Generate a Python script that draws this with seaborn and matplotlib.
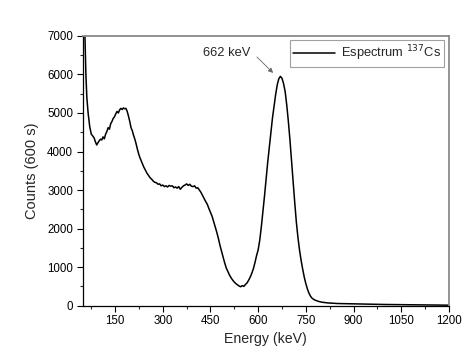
import matplotlib
matplotlib.use("Agg")
import matplotlib.pyplot as plt
import seaborn as sns
import pandas as pd

energy = [48, 52, 55, 58, 61, 65, 70, 75, 80, 84, 88, 92, 96, 100, 104, 108, 112, 116, 120, 124,
          128, 132, 136, 140, 144, 148, 152, 156, 160, 164, 168, 172, 176, 180, 184, 188, 192, 196,
          200, 204, 208, 212, 216, 220, 224, 228, 232, 236, 240, 245, 250, 255, 260, 265, 270, 275,
          280, 285, 290, 295, 300, 305, 310, 315, 320, 325, 330, 335, 340, 345, 350, 355, 360, 365,
          370, 375, 380, 385, 390, 395, 400, 405, 410, 415, 420, 425, 430, 435, 440, 445, 450, 455,
          460, 465, 470, 475, 480, 485, 490, 495, 500, 505, 510, 515, 520, 525, 530, 535, 540, 545,
          550, 555, 560, 565, 570, 575, 580, 585, 590, 595, 600, 605, 610, 615, 620, 625, 630, 635,
          640, 645, 650, 655, 660, 665, 670, 675, 680, 685, 690, 695, 700, 705, 710, 715, 720, 725,
          730, 735, 740, 745, 750, 755, 760, 765, 770, 775, 780, 790, 800, 820, 850, 880, 900, 950,
          1000, 1050, 1100, 1150, 1200]
counts = [9500, 8200, 7000, 6000, 5400, 5000, 4650, 4450, 4400, 4350, 4250, 4170, 4230, 4280, 4320,
          4300, 4380, 4330, 4450, 4520, 4620, 4580, 4720, 4780, 4860, 4900, 4980, 5040, 5000, 5080,
          5120, 5090, 5130, 5110, 5120, 5040, 4920, 4780, 4620, 4540, 4420, 4320, 4200, 4060, 3940,
          3840, 3760, 3680, 3600, 3520, 3440, 3380, 3320, 3280, 3230, 3200, 3190, 3150, 3160, 3110,
          3130, 3090, 3110, 3080, 3120, 3100, 3110, 3060, 3080, 3050, 3090, 3020, 3070, 3110, 3130,
          3160, 3120, 3150, 3100, 3090, 3110, 3050, 3060, 3000, 2940, 2860, 2780, 2700, 2630, 2520,
          2420, 2320, 2180, 2040, 1900, 1740, 1560, 1400, 1250, 1100, 970, 880, 790, 720, 660, 610,
          570, 540, 510, 490, 520, 500, 550, 590, 660, 740, 840, 960, 1120, 1300, 1450, 1700, 2050,
          2450, 2850, 3300, 3720, 4100, 4480, 4870, 5180, 5480, 5730, 5890, 5950, 5900, 5760, 5550,
          5200, 4780, 4300, 3750, 3180, 2680, 2180, 1780, 1450, 1180, 950, 740, 570, 430, 320, 240,
          190, 160, 140, 110, 90, 70, 55, 50, 45, 38, 30, 25, 20, 15, 12]

x_ticks = [150, 300, 450, 600, 750, 900, 1050, 1200]
y_ticks = [0, 1000, 2000, 3000, 4000, 5000, 6000, 7000]

df = pd.DataFrame({"Energy": energy, "Counts": counts})

sns.set_style("ticks")
plt.rcParams['font.family'] = ['Liberation Sans', 'DejaVu Sans']

fig = plt.figure(figsize=(4.74, 3.63), dpi=100)
ax = fig.add_axes([0.1745, 0.158, 0.7725, 0.743])

sns.lineplot(data=df, x="Energy", y="Counts", ax=ax, color="black", linewidth=1.1,
             label=r"Espectrum $^{137}$Cs")

ax.set_xlim(48, 1200)
ax.set_ylim(0, 7000)
ax.set_xticks(x_ticks)
ax.set_xticklabels([str(v) for v in x_ticks])
ax.set_yticks(y_ticks)
ax.set_yticklabels([str(v) for v in y_ticks])
ax.set_xticks([75, 225, 375, 525, 675, 825, 975, 1125], minor=True)
ax.set_yticks([500, 1500, 2500, 3500, 4500, 5500, 6500], minor=True)
ax.tick_params(axis="both", which="major", direction="out", length=4, width=0.8,
               labelsize=8.3, colors="black", pad=3)
ax.tick_params(axis="both", which="minor", direction="out", length=2, width=0.8)
ax.set_xlabel("Energy (keV)", fontsize=10.2, labelpad=3)
ax.set_ylabel("Counts (600 s)", fontsize=10.5, labelpad=6)

for s in ["left", "bottom"]:
    ax.spines[s].set_color("black")
    ax.spines[s].set_linewidth(0.9)
for s in ["top", "right"]:
    ax.spines[s].set_visible(True)
    ax.spines[s].set_color("#8a8a8a")
    ax.spines[s].set_linewidth(1.3)

ax.text(502, 6570, "662 keV", fontsize=9.3, ha="center", va="center")
ax.annotate("", xy=(647, 6040), xytext=(596, 6455),
            arrowprops=dict(arrowstyle="-|>", color="#666666", lw=0.6,
                            mutation_scale=7, shrinkA=0, shrinkB=0))

leg = ax.legend(loc="upper right", fontsize=9.3, frameon=True, fancybox=False,
                handlelength=3.2, borderpad=0.25, borderaxespad=0.35, handletextpad=0.5)
leg.get_frame().set_edgecolor("#8a8a8a")
leg.get_frame().set_linewidth(0.8)

fig.savefig("out.png", dpi=100)
